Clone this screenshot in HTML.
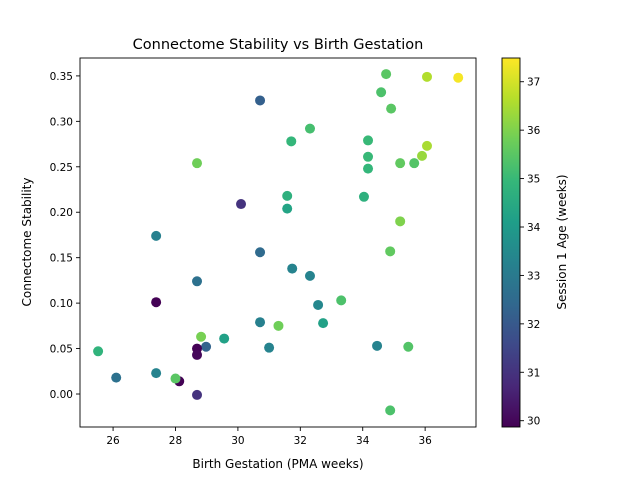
<!DOCTYPE html>
<html><head><meta charset="utf-8"><style>
body{margin:0;background:#fff;font-family:"Liberation Sans","DejaVu Sans",sans-serif}
</style></head><body>
<svg id="chart" width="640" height="480" xmlns="http://www.w3.org/2000/svg" font-family="DejaVu Sans, Liberation Sans, sans-serif">
<defs><linearGradient id="vir" x1="0" y1="1" x2="0" y2="0"></linearGradient></defs>
<text x="278" y="49" text-anchor="middle" font-size="14.5">Connectome Stability vs Birth Gestation</text>
<g id="points"></g>
<rect x="80" y="58" width="396" height="369" fill="none" stroke="#000" stroke-width="0.9"/>
<g id="xt"></g>
<g id="yt"></g>
<text x="278" y="468" text-anchor="middle" font-size="12">Birth Gestation (PMA weeks)</text>
<text transform="translate(31,242) rotate(-90)" text-anchor="middle" font-size="12">Connectome Stability</text>
<rect x="502" y="58" width="18" height="369" fill="url(#vir)" stroke="#000" stroke-width="0.9"/>
<g id="ct"></g>
<text transform="translate(566,242) rotate(-90)" text-anchor="middle" font-size="12">Session 1 Age (weeks)</text>
</svg>
<script>
const gestation=[34.75,36.06,37.06,34.59,34.91,30.71,32.31,31.71,34.17,36.06,34.17,35.9,35.2,35.65,28.69,34.17,31.58,34.04,30.1,31.58,35.2,27.38,34.88,30.71,31.74,32.31,28.69,32.57,27.38,33.31,30.71,32.73,31.3,29.56,28.82,34.46,35.46,31.0,28.98,28.69,28.69,25.52,26.1,27.38,28.12,28.0,28.69,34.88];
const stability=[0.352,0.349,0.348,0.332,0.314,0.323,0.292,0.278,0.279,0.273,0.261,0.262,0.254,0.254,0.254,0.248,0.218,0.217,0.209,0.204,0.19,0.174,0.157,0.156,0.138,0.130,0.124,0.098,0.101,0.103,0.079,0.078,0.075,0.061,0.063,0.053,0.052,0.051,0.052,0.050,0.043,0.047,0.018,0.023,0.014,0.017,-0.001,-0.018];
const sessionAge=[35.5,36.6,37.4,35.3,35.5,32.2,35.2,34.9,35.0,36.5,35.0,36.3,35.6,35.4,35.8,34.9,34.7,34.7,31.0,34.3,36.0,33.2,35.6,32.5,33.3,33.3,32.7,33.4,29.9,35.3,33.2,34.2,35.8,34.2,35.9,33.3,35.4,33.3,32.3,29.9,30.0,34.8,32.7,33.3,29.9,35.5,31.0,35.3];
const xTicks=[26,28,30,32,34,36];
const yTicks=[0.00,0.05,0.10,0.15,0.20,0.25,0.30,0.35];
const cTicks=[30,31,32,33,34,35,36,37];
const X0=80,X1=476,Y0=58,Y1=427;
const xMin=24.94,xMax=37.63,yMin=-0.0363,yMax=0.3697,cMin=29.87,cMax=37.49;
const xs=v=>X0+(v-xMin)/(xMax-xMin)*(X1-X0);
const ys=v=>Y1-(v-yMin)/(yMax-yMin)*(Y1-Y0);
const cs=v=>Y1-(v-cMin)/(cMax-cMin)*(Y1-Y0);
const vir=[[68,1,84],[72,40,120],[62,73,137],[49,104,142],[38,130,142],[31,158,137],[53,183,121],[110,206,88],[181,222,43],[253,231,37]];
function color(v){let t=(v-cMin)/(cMax-cMin);t=Math.max(0,Math.min(1,t))*(vir.length-1);const i=Math.min(Math.floor(t),vir.length-2),f=t-i;const c=vir[i].map((a,k)=>Math.round(a+(vir[i+1][k]-a)*f));return `rgb(${c})`;}
const NS="http://www.w3.org/2000/svg";
function mk(tag,attrs,parent){const e=document.createElementNS(NS,tag);for(const k in attrs)e.setAttribute(k,attrs[k]);parent.appendChild(e);return e;}
const grad=document.getElementById('vir');
vir.forEach((c,i)=>mk('stop',{offset:(i/(vir.length-1)),'stop-color':`rgb(${c})`},grad));
const pg=document.getElementById('points');
gestation.forEach((g,i)=>{const c=mk('circle',{cx:xs(g),cy:ys(stability[i]),r:5,fill:color(sessionAge[i])},pg);

});
const xt=document.getElementById('xt');
xTicks.forEach(v=>{const x=xs(v);mk('line',{x1:x,x2:x,y1:Y1,y2:Y1+4,stroke:'#000','stroke-width':0.9},xt);
const t=mk('text',{x:x,y:Y1+17,'text-anchor':'middle','font-size':10.5},xt);t.textContent=v;

});
const yt=document.getElementById('yt');
yTicks.forEach(v=>{const y=ys(v);mk('line',{x1:X0-4,x2:X0,y1:y,y2:y,stroke:'#000','stroke-width':0.9},yt);
const t=mk('text',{x:X0-7,y:y+4,'text-anchor':'end','font-size':10.5},yt);t.textContent=v.toFixed(2);

});
const ct=document.getElementById('ct');
cTicks.forEach(v=>{const y=cs(v);mk('line',{x1:520,x2:524,y1:y,y2:y,stroke:'#000','stroke-width':0.9},ct);
const t=mk('text',{x:527,y:y+4,'font-size':10.5},ct);t.textContent=v;

});
</script>
</body></html>
